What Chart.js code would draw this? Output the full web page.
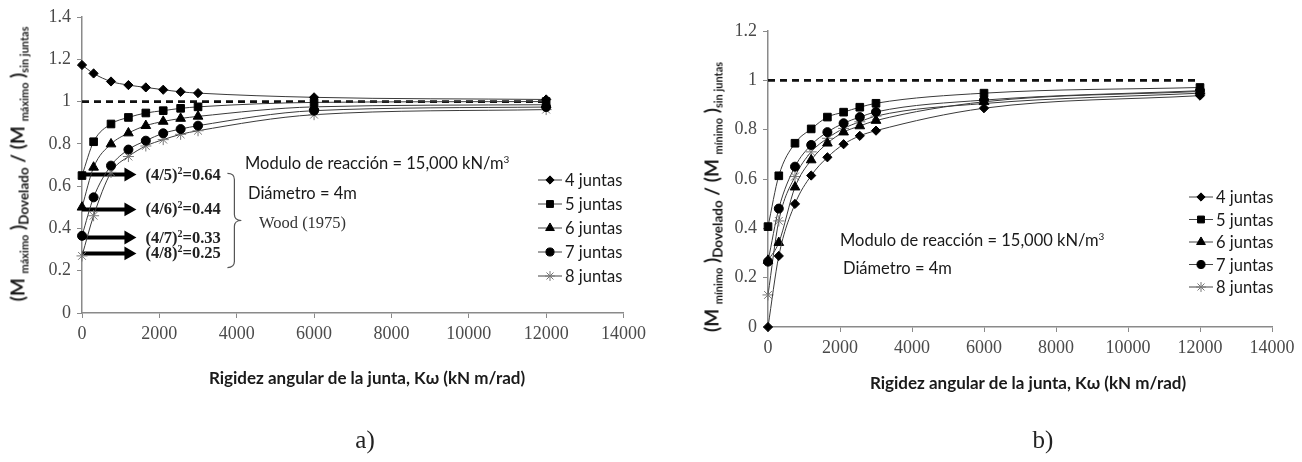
<!DOCTYPE html>
<html>
<head>
<meta charset="utf-8">
<script src="https://cdn.jsdelivr.net/npm/chart.js@4/dist/chart.umd.min.js"></script>
<style>
  body { margin: 0; background: #fff; width: 1302px; height: 462px; position: relative; overflow: hidden; font-family: Lato, "Noto Sans", sans-serif; }
  .wrap { position: absolute; top: 0; width: 651px; height: 462px; }
  .t { position: absolute; white-space: nowrap; color: #1a1a1a; transform: translateY(-50%); }
  .sans { font-family: Lato, sans-serif; font-size: 16.5px; }
  .wood { position: absolute; white-space: nowrap; font-family: "Liberation Serif", serif; font-weight: bold; font-size: 16.5px; color: #222; transform: translateY(-50%); }
  .wood sup, .sans sup { font-size: 10px; vertical-align: 6px; line-height: 0; }
  .xt { position: absolute; white-space: nowrap; font-family: Lato, sans-serif; font-weight: bold; font-size: 17px; color: #1a1a1a; transform: translate(-50%, -50%); }
  .yt { position: absolute; white-space: nowrap; font-family: Lato, sans-serif; font-weight: bold; font-size: 19px; color: #1a1a1a; transform: translate(-50%, -50%) rotate(-90deg); }
  .yt sub { font-size: 11px; vertical-align: -4px; line-height: 0; }
  .yt sub.big { font-size: 13.5px; }
  .cap { position: absolute; font-family: "Liberation Serif", serif; font-size: 25px; color: #222; transform: translate(-50%, -50%); }
</style>
</head>
<body>
<div class="wrap" id="wrapA" style="left:0"><canvas id="chartA"></canvas></div>
<div class="wrap" id="wrapB" style="left:651px"><canvas id="chartB"></canvas></div>

<div class="t sans" style="left:245px;top:163px">Modulo de reacción = 15,000 kN/m<sup>3</sup></div>
<div class="t sans" style="left:248px;top:193px">Diámetro = 4m</div>
<div class="t" style="left:259px;top:223px;font-family:'Liberation Serif',serif;font-size:16.5px;color:#333">Wood (1975)</div>
<div class="xt" style="left:367px;top:377px">Rigidez angular de la junta, Kω (kN m/rad)</div>
<div class="yt" style="left:17px;top:164px">(M <sub>máximo</sub> )<sub class="big">Dovelado</sub> / (M <sub>máximo</sub> )<sub>sin juntas</sub></div>
<div class="cap" style="left:365px;top:440px">a)</div>

<div class="t sans" style="left:840px;top:240px">Modulo de reacción = 15,000 kN/m<sup>3</sup></div>
<div class="t sans" style="left:843px;top:268px">Diámetro = 4m</div>
<div class="xt" style="left:1028px;top:382px">Rigidez angular de la junta, Kω (kN m/rad)</div>
<div class="yt" style="left:711px;top:197px">(M <sub>mínimo</sub> )<sub class="big">Dovelado</sub> / (M <sub>mínimo</sub> )<sub>sin juntas</sub></div>
<div class="cap" style="left:1043px;top:440px">b)</div>

<script>
// rigidez angular de la junta (kN m/rad)
const rigidez = [0, 300, 750, 1200, 1650, 2100, 2550, 3000, 6000, 12000];
const seriesNames = ['4 juntas', '5 juntas', '6 juntas', '7 juntas', '8 juntas'];

// a) momento máximo
const maxJ4 = [1.173, 1.133, 1.095, 1.078, 1.067, 1.056, 1.046, 1.040, 1.020, 1.010];
const maxJ5 = [0.650, 0.810, 0.894, 0.925, 0.946, 0.957, 0.968, 0.975, 0.996, 1.000];
const maxJ6 = [0.500, 0.689, 0.799, 0.851, 0.886, 0.906, 0.920, 0.930, 0.975, 0.985];
const maxJ7 = [0.365, 0.547, 0.697, 0.773, 0.815, 0.850, 0.870, 0.886, 0.957, 0.974];
const maxJ8 = [0.270, 0.460, 0.665, 0.740, 0.790, 0.820, 0.845, 0.862, 0.938, 0.962];

// b) momento mínimo
const minJ4 = [0.000, 0.288, 0.499, 0.614, 0.688, 0.741, 0.775, 0.796, 0.887, 0.938];
const minJ5 = [0.407, 0.613, 0.745, 0.803, 0.851, 0.871, 0.891, 0.907, 0.948, 0.971];
const minJ6 = [0.270, 0.342, 0.567, 0.677, 0.745, 0.790, 0.815, 0.837, 0.913, 0.955];
const minJ7 = [0.265, 0.480, 0.650, 0.738, 0.790, 0.826, 0.851, 0.872, 0.920, 0.958];
const minJ8 = [0.130, 0.430, 0.610, 0.710, 0.765, 0.805, 0.832, 0.855, 0.906, 0.948];

// tick labels
const xTicks = [0, 2000, 4000, 6000, 8000, 10000, 12000, 14000];
const yTicksMax = [0, 0.2, 0.4, 0.6, 0.8, 1, 1.2, 1.4];
const yTicksMin = [0, 0.2, 0.4, 0.6, 0.8, 1, 1.2];

// reference line (sin juntas = 1)
const refLevel = 1;
const refSpan = [0, 12000];

// Wood (1975) arrows
const woodLevels = [0.655, 0.49, 0.357, 0.282];
const woodLabels = ['(4/5)', '(4/6)', '(4/7)', '(4/8)'];
const woodValues = ['0.64', '0.44', '0.33', '0.25'];
const arrowTip = 1200;
const braceSpan = [0.66, 0.215];
const braceX = [3760, 4120];

const markers = [
    { style: 'rectRot', r: 4.6, fill: '#000', stroke: '#000' },
    { style: 'rect', r: 5.4, fill: '#000', stroke: '#000' },
    { style: 'triangle', r: 5.6, fill: '#000', stroke: '#000' },
    { style: 'circle', r: 4.5, fill: '#000', stroke: '#000' },
    { style: 'star', r: 5.5, fill: '#777', stroke: '#777' }
];

const tickFont = { family: 'Liberation Serif', size: 18 };
const axisGray = '#8a8a8a';

function seriesSets(ys) {
    return ys.map((vals, i) => ({
        label: seriesNames[i],
        data: rigidez.map((x, k) => ({ x: x, y: vals[k] })),
        showLine: true,
        cubicInterpolationMode: 'monotone',
        borderColor: '#3a3a3a',
        borderWidth: 1,
        pointStyle: markers[i].style,
        pointRadius: markers[i].r,
        pointBackgroundColor: markers[i].fill,
        pointBorderColor: markers[i].stroke,
        pointBorderWidth: 1,
        clip: false,
        order: 0,
        legendRow: i
    }));
}

function refSet() {
    return {
        label: 'ref',
        data: refSpan.map(x => ({ x: x, y: refLevel })),
        showLine: true,
        borderColor: '#111',
        borderWidth: 2.8,
        borderDash: [7, 5],
        pointRadius: 0,
        clip: false,
        order: 5
    };
}

function axes(yTicks, yWidth) {
    return {
        x: {
            type: 'linear',
            min: 0,
            max: 14000,
            afterFit: s => { s.height = 40; },
            afterBuildTicks: s => { s.ticks = xTicks.map(v => ({ value: v })); },
            ticks: { callback: v => String(v), font: tickFont, color: '#4a4a4a', padding: 5, maxRotation: 0, autoSkip: false },
            grid: { drawOnChartArea: false, drawTicks: true, tickLength: 5, color: axisGray },
            border: { color: axisGray, width: 1.5 }
        },
        y: {
            type: 'linear',
            min: 0,
            max: yTicks[yTicks.length - 1],
            afterFit: s => { s.width = yWidth; },
            afterBuildTicks: s => { s.ticks = yTicks.map(v => ({ value: v })); },
            ticks: { callback: v => String(v), font: tickFont, color: '#4a4a4a', padding: 6, autoSkip: false },
            grid: { drawOnChartArea: false, drawTicks: true, tickLength: 5, color: axisGray },
            border: { color: axisGray, width: 1.5 }
        }
    };
}

// legend drawn beside the plot, same markers as the series
function legendPlugin(x0, y0, gap) {
    return {
        id: 'sideLegend',
        afterDraw(chart) {
            const ctx = chart.ctx;
            ctx.save();
            chart.data.datasets.forEach(ds => {
                if (ds.legendRow === undefined) return;
                const y = y0 + ds.legendRow * gap;
                ctx.strokeStyle = '#444';
                ctx.lineWidth = 1;
                ctx.beginPath();
                ctx.moveTo(x0 - 12, y);
                ctx.lineTo(x0 + 12, y);
                ctx.stroke();
                ctx.fillStyle = ds.pointBackgroundColor;
                ctx.strokeStyle = ds.pointBorderColor;
                const opts = { pointStyle: ds.pointStyle, radius: ds.pointRadius * 0.9, rotation: 0, borderWidth: 1 };
                if (Chart.helpers && Chart.helpers.drawPoint) {
                    Chart.helpers.drawPoint(ctx, opts, x0, y);
                } else {
                    ctx.beginPath();
                    ctx.arc(x0, y, 4, 0, Math.PI * 2);
                    ctx.fill();
                }
                ctx.fillStyle = '#1a1a1a';
                ctx.font = '16.5px Lato, sans-serif';
                ctx.textBaseline = 'middle';
                ctx.fillText(ds.label, x0 + 15, y + 1);
            });
            ctx.restore();
        }
    };
}

const bracePlugin = {
    id: 'brace',
    afterDraw(chart) {
        const xs = chart.scales.x, ys = chart.scales.y;
        const xa = xs.getPixelForValue(braceX[0]);
        const xb = xs.getPixelForValue(braceX[1]);
        const xm = (xa + xb) / 2;
        const top = ys.getPixelForValue(braceSpan[0]);
        const bot = ys.getPixelForValue(braceSpan[1]);
        const mid = (top + bot) / 2;
        const r = 6;
        const ctx = chart.ctx;
        ctx.save();
        ctx.strokeStyle = '#555';
        ctx.lineWidth = 1.2;
        ctx.beginPath();
        ctx.moveTo(xa, top);
        ctx.quadraticCurveTo(xm, top, xm, top + r);
        ctx.lineTo(xm, mid - r);
        ctx.quadraticCurveTo(xm, mid, xb, mid);
        ctx.quadraticCurveTo(xm, mid, xm, mid + r);
        ctx.lineTo(xm, bot - r);
        ctx.quadraticCurveTo(xm, bot, xa, bot);
        ctx.stroke();
        ctx.restore();
    }
};

const arrowSets = woodLevels.map(lvl => ({
    label: 'arrow',
    data: [{ x: 0, y: lvl }, { x: arrowTip, y: lvl }],
    showLine: true,
    borderColor: '#000',
    borderWidth: 4,
    pointStyle: 'triangle',
    pointRotation: 90,
    pointRadius: [0, 8],
    pointBackgroundColor: '#000',
    pointBorderWidth: 0,
    clip: false,
    order: 3
}));

const baseOptions = {
    responsive: true,
    maintainAspectRatio: false,
    animation: false,
    events: [],
    plugins: { legend: { display: false }, tooltip: { enabled: false } }
};

const chartA = new Chart(document.getElementById('chartA'), {
    type: 'scatter',
    data: { datasets: seriesSets([maxJ4, maxJ5, maxJ6, maxJ7, maxJ8]).concat(arrowSets, [refSet()]) },
    options: Object.assign({}, baseOptions, {
        layout: { padding: { left: 0, top: 17, right: 26, bottom: 109 } },
        scales: axes(yTicksMax, 82)
    }),
    plugins: [legendPlugin(550, 180, 24), bracePlugin]
});

const chartB = new Chart(document.getElementById('chartB'), {
    type: 'scatter',
    data: { datasets: seriesSets([minJ4, minJ5, minJ6, minJ7, minJ8]).concat([refSet()]) },
    options: Object.assign({}, baseOptions, {
        layout: { padding: { left: 0, top: 31, right: 30, bottom: 95 } },
        scales: axes(yTicksMin, 117)
    }),
    plugins: [legendPlugin(550, 197, 22.5)]
});

// Wood (1975) labels next to the arrows
const wrapA = document.getElementById('wrapA');
woodLevels.forEach((lvl, i) => {
    const el = document.createElement('div');
    el.className = 'wood';
    el.innerHTML = woodLabels[i] + '<sup>2</sup>=' + woodValues[i];
    el.style.left = (chartA.scales.x.getPixelForValue(arrowTip) + 17) + 'px';
    el.style.top = chartA.scales.y.getPixelForValue(lvl) + 'px';
    wrapA.appendChild(el);
});
</script>
</body>
</html>
